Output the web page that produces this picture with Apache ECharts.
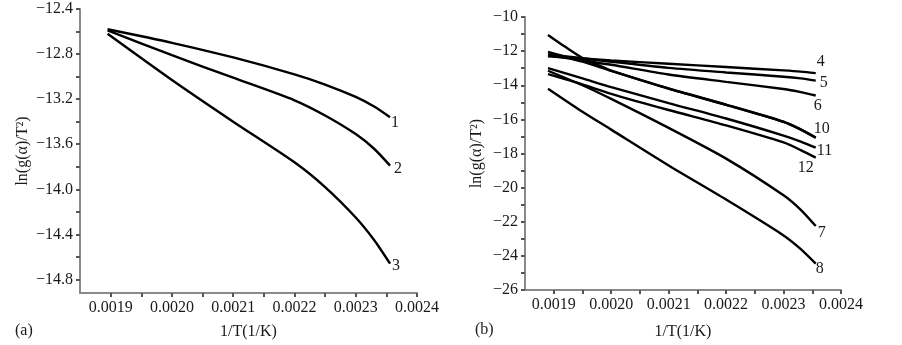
<!DOCTYPE html>
<html>
<head>
<meta charset="utf-8">
<script src="https://cdn.jsdelivr.net/npm/echarts@6.0.0/dist/echarts.min.js"></script>
<style>
  html, body { margin: 0; padding: 0; background: #fff; }
  #main { width: 902px; height: 345px; }
</style>
</head>
<body>
<div id="main"></div>
<script>
// panel (a)
const xA = [0.001895, 0.0020, 0.0021, 0.0022, 0.00225, 0.0023, 0.00233, 0.002356]
const curve1 = [-12.58, -12.70, -12.83, -12.98, -13.07, -13.18, -13.265, -13.36]
const curve2 = [-12.59, -12.81, -13.01, -13.21, -13.345, -13.51, -13.64, -13.79]
const curve3 = [-12.62, -13.03, -13.40, -13.76, -13.98, -14.25, -14.45, -14.66]

// panel (b)
const xB = [0.00189, 0.00195, 0.0020, 0.0021, 0.0022, 0.0023, 0.00233, 0.002356]
const curve4 = [-12.3, -12.43, -12.55, -12.74, -12.93, -13.13, -13.2, -13.29]
const curve5 = [-12.2, -12.42, -12.62, -12.98, -13.25, -13.5, -13.6, -13.73]
const curve6 = [-12.25, -12.55, -12.8, -13.37, -13.8, -14.22, -14.4, -14.6]
const curve7 = [-13.15, -14.0, -14.8, -16.5, -18.3, -20.45, -21.3, -22.25]
const curve8 = [-14.2, -15.55, -16.6, -18.7, -20.7, -22.8, -23.6, -24.45]
const curve10 = [-12.05, -12.62, -13.16, -14.2, -15.15, -16.15, -16.6, -17.08]
const curve11 = [-13.0, -13.6, -14.11, -15.05, -15.95, -16.95, -17.3, -17.66]
const curve12 = [-13.35, -13.95, -14.5, -15.45, -16.35, -17.35, -17.8, -18.24]
const x9 = [0.00189, 0.00192, 0.00195, 0.00198, 0.0020, 0.0021, 0.0022, 0.0023, 0.00233, 0.002356]
const curve9 = [-11.05, -11.75, -12.4, -12.85, -13.14, -14.19, -15.14, -16.14, -16.59, -17.07]

// ticks
const xLabels = [0.0019, 0.0020, 0.0021, 0.0022, 0.0023, 0.0024]
const xTicks = [0.0019, 0.00195, 0.0020, 0.00205, 0.0021, 0.00215, 0.0022, 0.00225, 0.0023, 0.00235, 0.0024]
const yLabelsA = [-14.8, -14.4, -14.0, -13.6, -13.2, -12.8, -12.4]
const yTicksA = [-14.8, -14.6, -14.4, -14.2, -14.0, -13.8, -13.6, -13.4, -13.2, -13.0, -12.8, -12.6, -12.4]
const yLabelsB = [-26, -24, -22, -20, -18, -16, -14, -12, -10]
const yTicksB = [-26, -25, -24, -23, -22, -21, -20, -19, -18, -17, -16, -15, -14, -13, -12, -11, -10]

const FONT = 'Liberation Serif'
const axisGray = '#8a8a8a'
const txt = '#1a1a1a'

const zip = (xs, ys) => xs.map((x, i) => [x, ys[i]])

function xAxisOpt(gridIndex, gap) {
  return {
    type: 'value', gridIndex, min: 0.00185, max: 0.0024,
    name: '1/T(1/K)', nameLocation: 'middle', nameGap: gap,
    nameTextStyle: { fontFamily: FONT, fontSize: 16, color: txt },
    splitLine: { show: false },
    axisLine: { onZero: false, lineStyle: { color: axisGray, width: 2 } },
    axisTick: { customValues: xTicks, length: 4, lineStyle: { color: '#555', width: 2 } },
    axisLabel: {
      customValues: xLabels, margin: 7, fontFamily: FONT, fontSize: 16, color: txt,
      formatter: v => v.toFixed(4),
    },
  }
}

function yAxisOpt(gridIndex, min, max, labels, ticks, digits, gap) {
  return {
    type: 'value', gridIndex, min, max,
    name: 'ln(g(α)/T²)', nameLocation: 'middle', nameGap: gap, nameRotate: 90,
    nameTextStyle: { fontFamily: FONT, fontSize: 16, color: txt },
    splitLine: { show: false },
    axisLine: { onZero: false, lineStyle: { color: axisGray, width: 2 } },
    axisTick: { customValues: ticks, length: 4, lineStyle: { color: '#555', width: 2 } },
    axisLabel: {
      customValues: labels, margin: 7, fontFamily: FONT, fontSize: 16, color: txt,
      formatter: v => '\u2212' + Math.abs(v).toFixed(digits),
    },
  }
}

function line(name, xi, xs, ys, offset) {
  return {
    name, type: 'line', xAxisIndex: xi, yAxisIndex: xi,
    data: zip(xs, ys), smooth: 0.25, showSymbol: false, symbol: 'none',
    lineStyle: { color: '#000', width: 2.4 },
    animation: false, silent: true,
    endLabel: offset ? {
      show: true, formatter: name, distance: 1, offset,
      fontFamily: FONT, fontSize: 16, color: txt,
    } : { show: false },
  }
}

const chart = echarts.init(document.getElementById('main'))

// curve 9 is labelled at its start
const s9 = line('9', 1, x9, curve9, null)
s9.data = s9.data.map((p, i) => i === 0 ? {
  value: p,
  label: { show: true, formatter: '9', position: 'left', distance: 0, offset: [2, 8],
    fontFamily: FONT, fontSize: 16, color: txt },
} : p)

chart.setOption({
  animation: false,
  grid: [
    { left: 80, top: 9, width: 337, height: 284 },
    { left: 525, top: 17, width: 316, height: 278 },
  ],
  xAxis: [xAxisOpt(0, 31), xAxisOpt(1, 34)],
  yAxis: [
    yAxisOpt(0, -14.92, -12.4, yLabelsA, yTicksA, 1, 49),
    yAxisOpt(1, -26, -10, yLabelsB, yTicksB, 0, 40),
  ],
  graphic: [
    { type: 'text', left: 15, top: 323, style: { text: '(a)', font: '16px "Liberation Serif"', fill: txt } },
    { type: 'text', left: 475, top: 322, style: { text: '(b)', font: '16px "Liberation Serif"', fill: txt } },
  ],
  series: [
    line('1', 0, xA, curve1, [0, 6]),
    line('2', 0, xA, curve2, [3, 3]),
    line('3', 0, xA, curve3, [1, 2]),
    line('4', 1, xB, curve4, [0, -11]),
    line('5', 1, xB, curve5, [3, 2]),
    line('6', 1, xB, curve6, [-3, 10]),
    line('7', 1, xB, curve7, [1, 7]),
    line('8', 1, xB, curve8, [-1, 5]),
    s9,
    line('10', 1, xB, curve10, [-3, -9]),
    line('11', 1, xB, curve11, [0, 3]),
    line('12', 1, xB, curve12, [-19, 10]),
  ],
})
</script>
</body>
</html>
